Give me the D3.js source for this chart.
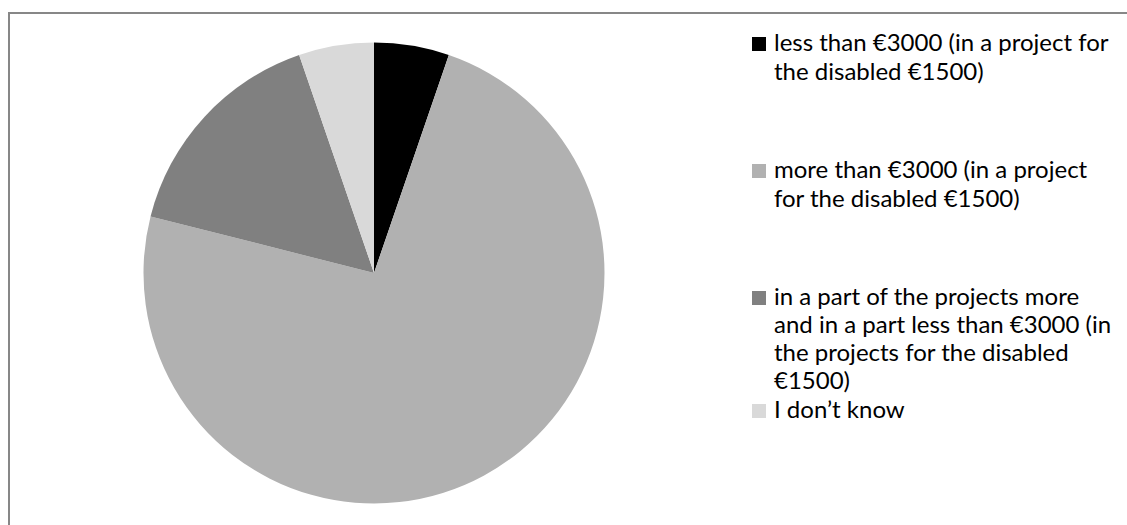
<!DOCTYPE html>
<html>
<head>
<meta charset="utf-8">
<script src="https://cdn.jsdelivr.net/npm/d3@7"></script>
<style>
  html, body { margin: 0; padding: 0; background: #fff; }
  svg { display: block; }
</style>
</head>
<body>
<svg id="chart" width="1127" height="525"></svg>
<script>
// Answer categories (legend text, one array entry per wrapped line)
const categories = [
  ["less than €3000 (in a project for", "the disabled €1500)"],
  ["more than €3000 (in a project", "for the disabled €1500)"],
  ["in a part of the projects more", "and in a part less than €3000 (in", "the projects for the disabled", "€1500)"],
  ["I don’t know"]
];
// Number of responses per category
const counts = [1, 14, 3, 1];
const colors = ["#000000", "#b1b1b1", "#808080", "#d9d9d9"];

const svg = d3.select("#chart");

// Outer frame of the chart area
svg.append("rect")
  .attr("x", 9).attr("y", 13)
  .attr("width", 1140).attr("height", 540)
  .attr("fill", "#fff")
  .attr("stroke", "#878787")
  .attr("stroke-width", 2);

// Pie
const cx = 374, cy = 273, radius = 230.5;
const pie = d3.pie().sort(null).value(d => d)(counts);
const arc = d3.arc().innerRadius(0).outerRadius(radius);

svg.append("g")
  .attr("transform", `translate(${cx},${cy})`)
  .selectAll("path")
  .data(pie)
  .join("path")
  .attr("d", arc)
  .attr("fill", (d, i) => colors[i]);

// Legend
const legendX = 752, textX = 774, lineH = 29;
const firstBaselines = [51, 178, 305, 418];
const legend = svg.append("g")
  .style("font-family", "Lato, 'Open Sans', sans-serif")
  .style("font-size", "24px")
  .attr("fill", "#000");

categories.forEach((lines, i) => {
  const b = firstBaselines[i];
  legend.append("rect")
    .attr("x", legendX).attr("y", b - 14)
    .attr("width", 14).attr("height", 14)
    .attr("fill", colors[i]);
  const t = legend.append("text").attr("x", textX).attr("y", b);
  lines.forEach((ln, j) => {
    t.append("tspan").attr("x", textX).attr("y", b + j * (i === 2 ? 28 : lineH)).text(ln);
  });
});
</script>
</body>
</html>
